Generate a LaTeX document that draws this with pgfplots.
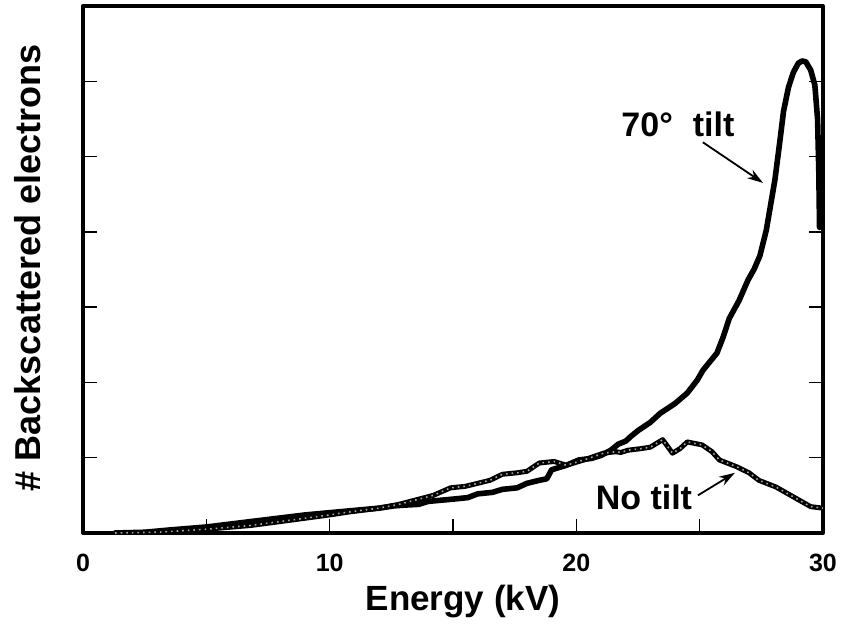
\documentclass[border=0pt]{standalone}
\usepackage{fontspec}
\setmainfont{Liberation Sans}
\usepackage{pgfplots}
\pgfplotsset{compat=1.18}
\usepackage{pgfplotstable}
\usetikzlibrary{arrows.meta}

% Backscattered electron energy spectra, 70 degree tilt vs. normal incidence
\pgfplotstableread{
x y
1.3 0
2.5 0.01
3.5 0.04
5 0.08
6 0.12
7 0.16
8 0.2
9 0.24
10 0.27
11 0.3
12 0.33
12.6 0.36
13 0.37
13.6 0.38
14 0.42
15 0.45
15.6 0.47
16 0.52
16.6 0.54
17 0.58
17.6 0.6
18 0.66
18.5 0.7
18.8 0.72
19 0.84
19.6 0.9
20.1 0.97
20.6 0.99
21 1.03
21.4 1.1
21.7 1.18
22 1.22
22.2 1.28
22.5 1.36
23 1.47
23.4 1.59
24 1.72
24.5 1.86
24.9 2.03
25.13 2.16
25.7 2.39
25.95 2.6
26.2 2.85
26.6 3.09
26.96 3.36
27.2 3.5
27.44 3.68
27.7 4.02
28.05 4.69
28.25 5.2
28.4 5.6
28.6 5.92
28.8 6.12
29.0 6.24
29.15 6.27
29.3 6.26
29.5 6.15
29.67 5.95
29.78 5.5
29.83 4.8
29.86 4.06
}\tilted

\pgfplotstableread{
x y
1.3 0
3 0.01
5 0.05
6.8 0.1
8.4 0.17
10 0.24
10.8 0.28
12 0.33
12.8 0.38
13.5 0.44
14.2 0.5
14.9 0.6
15.5 0.62
16 0.66
16.5 0.7
17 0.78
17.6 0.8
18 0.82
18.5 0.93
19.1 0.95
19.6 0.9
20.3 0.97
21.1 1.06
21.6 1.08
21.8 1.07
22.1 1.1
22.6 1.12
23.0 1.14
23.5 1.24
23.9 1.06
24.2 1.12
24.5 1.21
25.1 1.17
25.5 1.08
25.8 0.97
26.5 0.88
27.0 0.8
27.4 0.70
28.1 0.61
28.8 0.48
29.5 0.35
30 0.33
}\normal

\begin{document}
\begin{tikzpicture}
\useasboundingbox (-41.5pt,-47.5pt) rectangle (384.5pt,266.5pt);
\begin{axis}[
  at={(0,0)}, anchor=south west,
  scale only axis, width=370pt, height=263.5pt,
  xmin=0, xmax=30, ymin=0, ymax=7,
  xtick={0,5,...,30}, xticklabels={0,,10,,20,,30},
  ytick={1,2,3,4,5,6}, yticklabels={},
  xtick pos=lower, ytick pos=both,
  tick align=inside,
  major tick length=7pt,
  tick style={line width=0.7pt, black},
  axis line style={line width=2pt, line join=round},
  /pgf/number format/assume math mode=true,
  xticklabel style={font=\fontsize{12.5}{15}\selectfont\bfseries, yshift=-7pt},
  xlabel={Energy (kV)},
  ylabel={\# Backscattered electrons},
  xlabel style={at={(axis description cs:0.5135,-0.086)}, anchor=north,
    font=\fontsize{17.5}{21}\selectfont\bfseries},
  ylabel style={at={(axis description cs:-0.047,0.503)}, anchor=south,
    font=\fontsize{18}{21}\selectfont\bfseries},
]
\addplot[black, line width=2.8pt, line join=round, line cap=round] table {\tilted};
\addplot[black, line width=2.5pt, line join=round, line cap=round] table {\normal};
\addplot[black!35, line width=0.8pt, dotted, line join=round] table {\normal};

\node[font=\fontsize{17}{20}\selectfont\bfseries] at (axis cs:24.12,5.43) {70°\hspace{10pt}tilt};
\draw[line width=0.9pt, -{Stealth[length=8pt,width=5pt]}] (axis cs:25.13,5.19) -- (axis cs:27.57,4.65);
\node[font=\fontsize{17}{20}\selectfont\bfseries] at (axis cs:22.74,0.48) {No tilt};
\draw[line width=0.9pt, -{Stealth[length=8pt,width=5pt]}] (axis cs:24.93,0.50) -- (axis cs:26.43,0.80);
\end{axis}
\end{tikzpicture}
\end{document}
